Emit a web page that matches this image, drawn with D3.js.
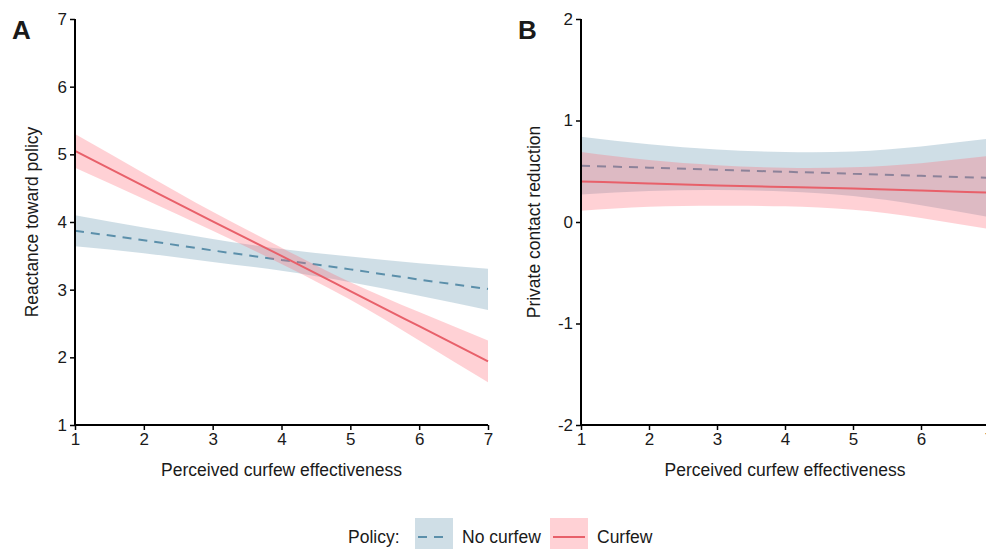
<!DOCTYPE html>
<html>
<head>
<meta charset="utf-8">
<script src="https://cdn.jsdelivr.net/npm/d3@7"></script>
<style>
  body { margin: 0; background: #fff; }
  svg text { font-family: "Liberation Sans", Arial, sans-serif; fill: #1a1a1a; }
</style>
</head>
<body>
<div id="chart"></div>
<script>
var xs = [1, 2, 3, 4, 5, 6, 7];

// panel A: reactance toward policy
var a_no_fit = [3.87, 3.73, 3.58, 3.44, 3.30, 3.15, 3.01];
var a_no_lo  = [3.64, 3.54, 3.41, 3.28, 3.11, 2.91, 2.70];
var a_no_hi  = [4.10, 3.92, 3.75, 3.60, 3.49, 3.39, 3.31];
var a_cu_fit = [5.05, 4.53, 4.01, 3.50, 2.98, 2.46, 1.94];
var a_cu_lo  = [4.80, 4.34, 3.87, 3.38, 2.85, 2.25, 1.63];
var a_cu_hi  = [5.30, 4.72, 4.15, 3.62, 3.11, 2.67, 2.25];

// panel B: private contact reduction
var b_no_fit = [0.555, 0.535, 0.515, 0.495, 0.475, 0.455, 0.435];
var b_no_lo  = [0.27, 0.305, 0.315, 0.30, 0.255, 0.165, 0.05];
var b_no_hi  = [0.84, 0.765, 0.715, 0.69, 0.695, 0.745, 0.82];
var b_cu_fit = [0.40, 0.38, 0.36, 0.345, 0.33, 0.31, 0.29];
var b_cu_lo  = [0.11, 0.15, 0.16, 0.155, 0.12, 0.04, -0.07];
var b_cu_hi  = [0.69, 0.61, 0.56, 0.535, 0.54, 0.58, 0.65];

var xTicks = [1, 2, 3, 4, 5, 6, 7];
var yTicksA = [1, 2, 3, 4, 5, 6, 7];
var yTicksB = [-2, -1, 0, 1, 2];

var policies = ["No curfew", "Curfew"];

var colors = {
    no_band: "rgba(95,145,172,0.3)",
    no_line: "#5b8faa",
    cu_band: "rgba(255,102,115,0.3)",
    cu_line: "#e8606a"
};

var width = 986, height = 549;

var svg = d3.select("#chart").append("svg")
    .attr("width", width)
    .attr("height", height);

function rows(lo, fit, hi) {
    return xs.map(function(x, i) {
        return {x: x, lo: lo[i], fit: fit[i], hi: hi[i]};
    });
}

function panel(opts) {
    var x = d3.scaleLinear().domain([1, 7]).range([opts.left, opts.right]);
    var y = d3.scaleLinear().domain(opts.ydomain).range([425, 19]);

    var g = svg.append("g");

    var area = d3.area()
        .curve(d3.curveNatural)
        .x(function(d) { return x(d.x); })
        .y0(function(d) { return y(d.lo); })
        .y1(function(d) { return y(d.hi); });

    var line = d3.line()
        .curve(d3.curveNatural)
        .x(function(d) { return x(d.x); })
        .y(function(d) { return y(d.fit); });

    g.append("path").datum(opts.no)
        .attr("d", area)
        .attr("fill", colors.no_band);
    g.append("path").datum(opts.no)
        .attr("d", line)
        .attr("fill", "none")
        .attr("stroke", colors.no_line)
        .attr("stroke-width", 2)
        .attr("stroke-dasharray", "9,7");
    g.append("path").datum(opts.cu)
        .attr("d", area)
        .attr("fill", colors.cu_band);
    g.append("path").datum(opts.cu)
        .attr("d", line)
        .attr("fill", "none")
        .attr("stroke", colors.cu_line)
        .attr("stroke-width", 2);

    var xAxis = d3.axisBottom(x).tickValues(xTicks).tickSize(5).tickPadding(3)
        .tickFormat(String);
    var yAxis = d3.axisLeft(y).tickValues(opts.yticks).tickSize(5).tickPadding(3)
        .tickFormat(String);

    var gx = g.append("g")
        .attr("transform", "translate(0,425)")
        .call(xAxis);
    var gy = g.append("g")
        .attr("transform", "translate(" + opts.left + ",0)")
        .call(yAxis);

    [gx, gy].forEach(function(a) {
        a.select(".domain").attr("stroke", "#000").attr("stroke-width", 2);
        a.selectAll(".tick line").attr("stroke", "#000").attr("stroke-width", 1.5);
        a.selectAll(".tick text").style("font-size", "17px").attr("fill", "#1a1a1a");
    });
    // drop the outer tick stubs d3 draws at the ends of the domain path
    gx.select(".domain").attr("d", "M" + opts.left + ",0H" + opts.right);
    gy.select(".domain").attr("d", "M0," + y.range()[0] + "V" + y.range()[1]);

    g.append("text")
        .attr("x", (opts.left + opts.right) / 2)
        .attr("y", 476)
        .attr("text-anchor", "middle")
        .style("font-size", "17.5px")
        .text("Perceived curfew effectiveness");

    g.append("text")
        .attr("transform", "translate(" + (opts.left - opts.ytoff) + ",222) rotate(-90)")
        .attr("text-anchor", "middle")
        .style("font-size", "17.5px")
        .text(opts.ytitle);

    g.append("text")
        .attr("x", opts.left - 63)
        .attr("y", 39)
        .style("font-size", "26px")
        .style("font-weight", "bold")
        .text(opts.tag);
}

panel({
    left: 75, right: 488, ydomain: [1, 7], yticks: yTicksA, ytoff: 37,
    ytitle: "Reactance toward policy", tag: "A",
    no: rows(a_no_lo, a_no_fit, a_no_hi),
    cu: rows(a_cu_lo, a_cu_fit, a_cu_hi)
});

panel({
    left: 581, right: 989, ydomain: [-2, 2], yticks: yTicksB, ytoff: 41,
    ytitle: "Private contact reduction", tag: "B",
    no: rows(b_no_lo, b_no_fit, b_no_hi),
    cu: rows(b_cu_lo, b_cu_fit, b_cu_hi)
});

// legend
var legend = svg.append("g");
legend.append("text")
    .attr("x", 348).attr("y", 543)
    .style("font-size", "17.5px")
    .text("Policy:");

var keys = [
    {name: policies[0], x: 415, band: colors.no_band, line: colors.no_line, dash: "9,7"},
    {name: policies[1], x: 550, band: colors.cu_band, line: colors.cu_line, dash: null}
];
keys.forEach(function(k) {
    legend.append("rect")
        .attr("x", k.x).attr("y", 518)
        .attr("width", 38).attr("height", 34)
        .attr("fill", k.band);
    legend.append("line")
        .attr("x1", k.x + 3).attr("x2", k.x + 35)
        .attr("y1", 537).attr("y2", 537)
        .attr("stroke", k.line)
        .attr("stroke-width", 2)
        .attr("stroke-dasharray", k.dash);
    legend.append("text")
        .attr("x", k.x + 47).attr("y", 543)
        .style("font-size", "17.5px")
        .text(k.name);
});
</script>
</body>
</html>
